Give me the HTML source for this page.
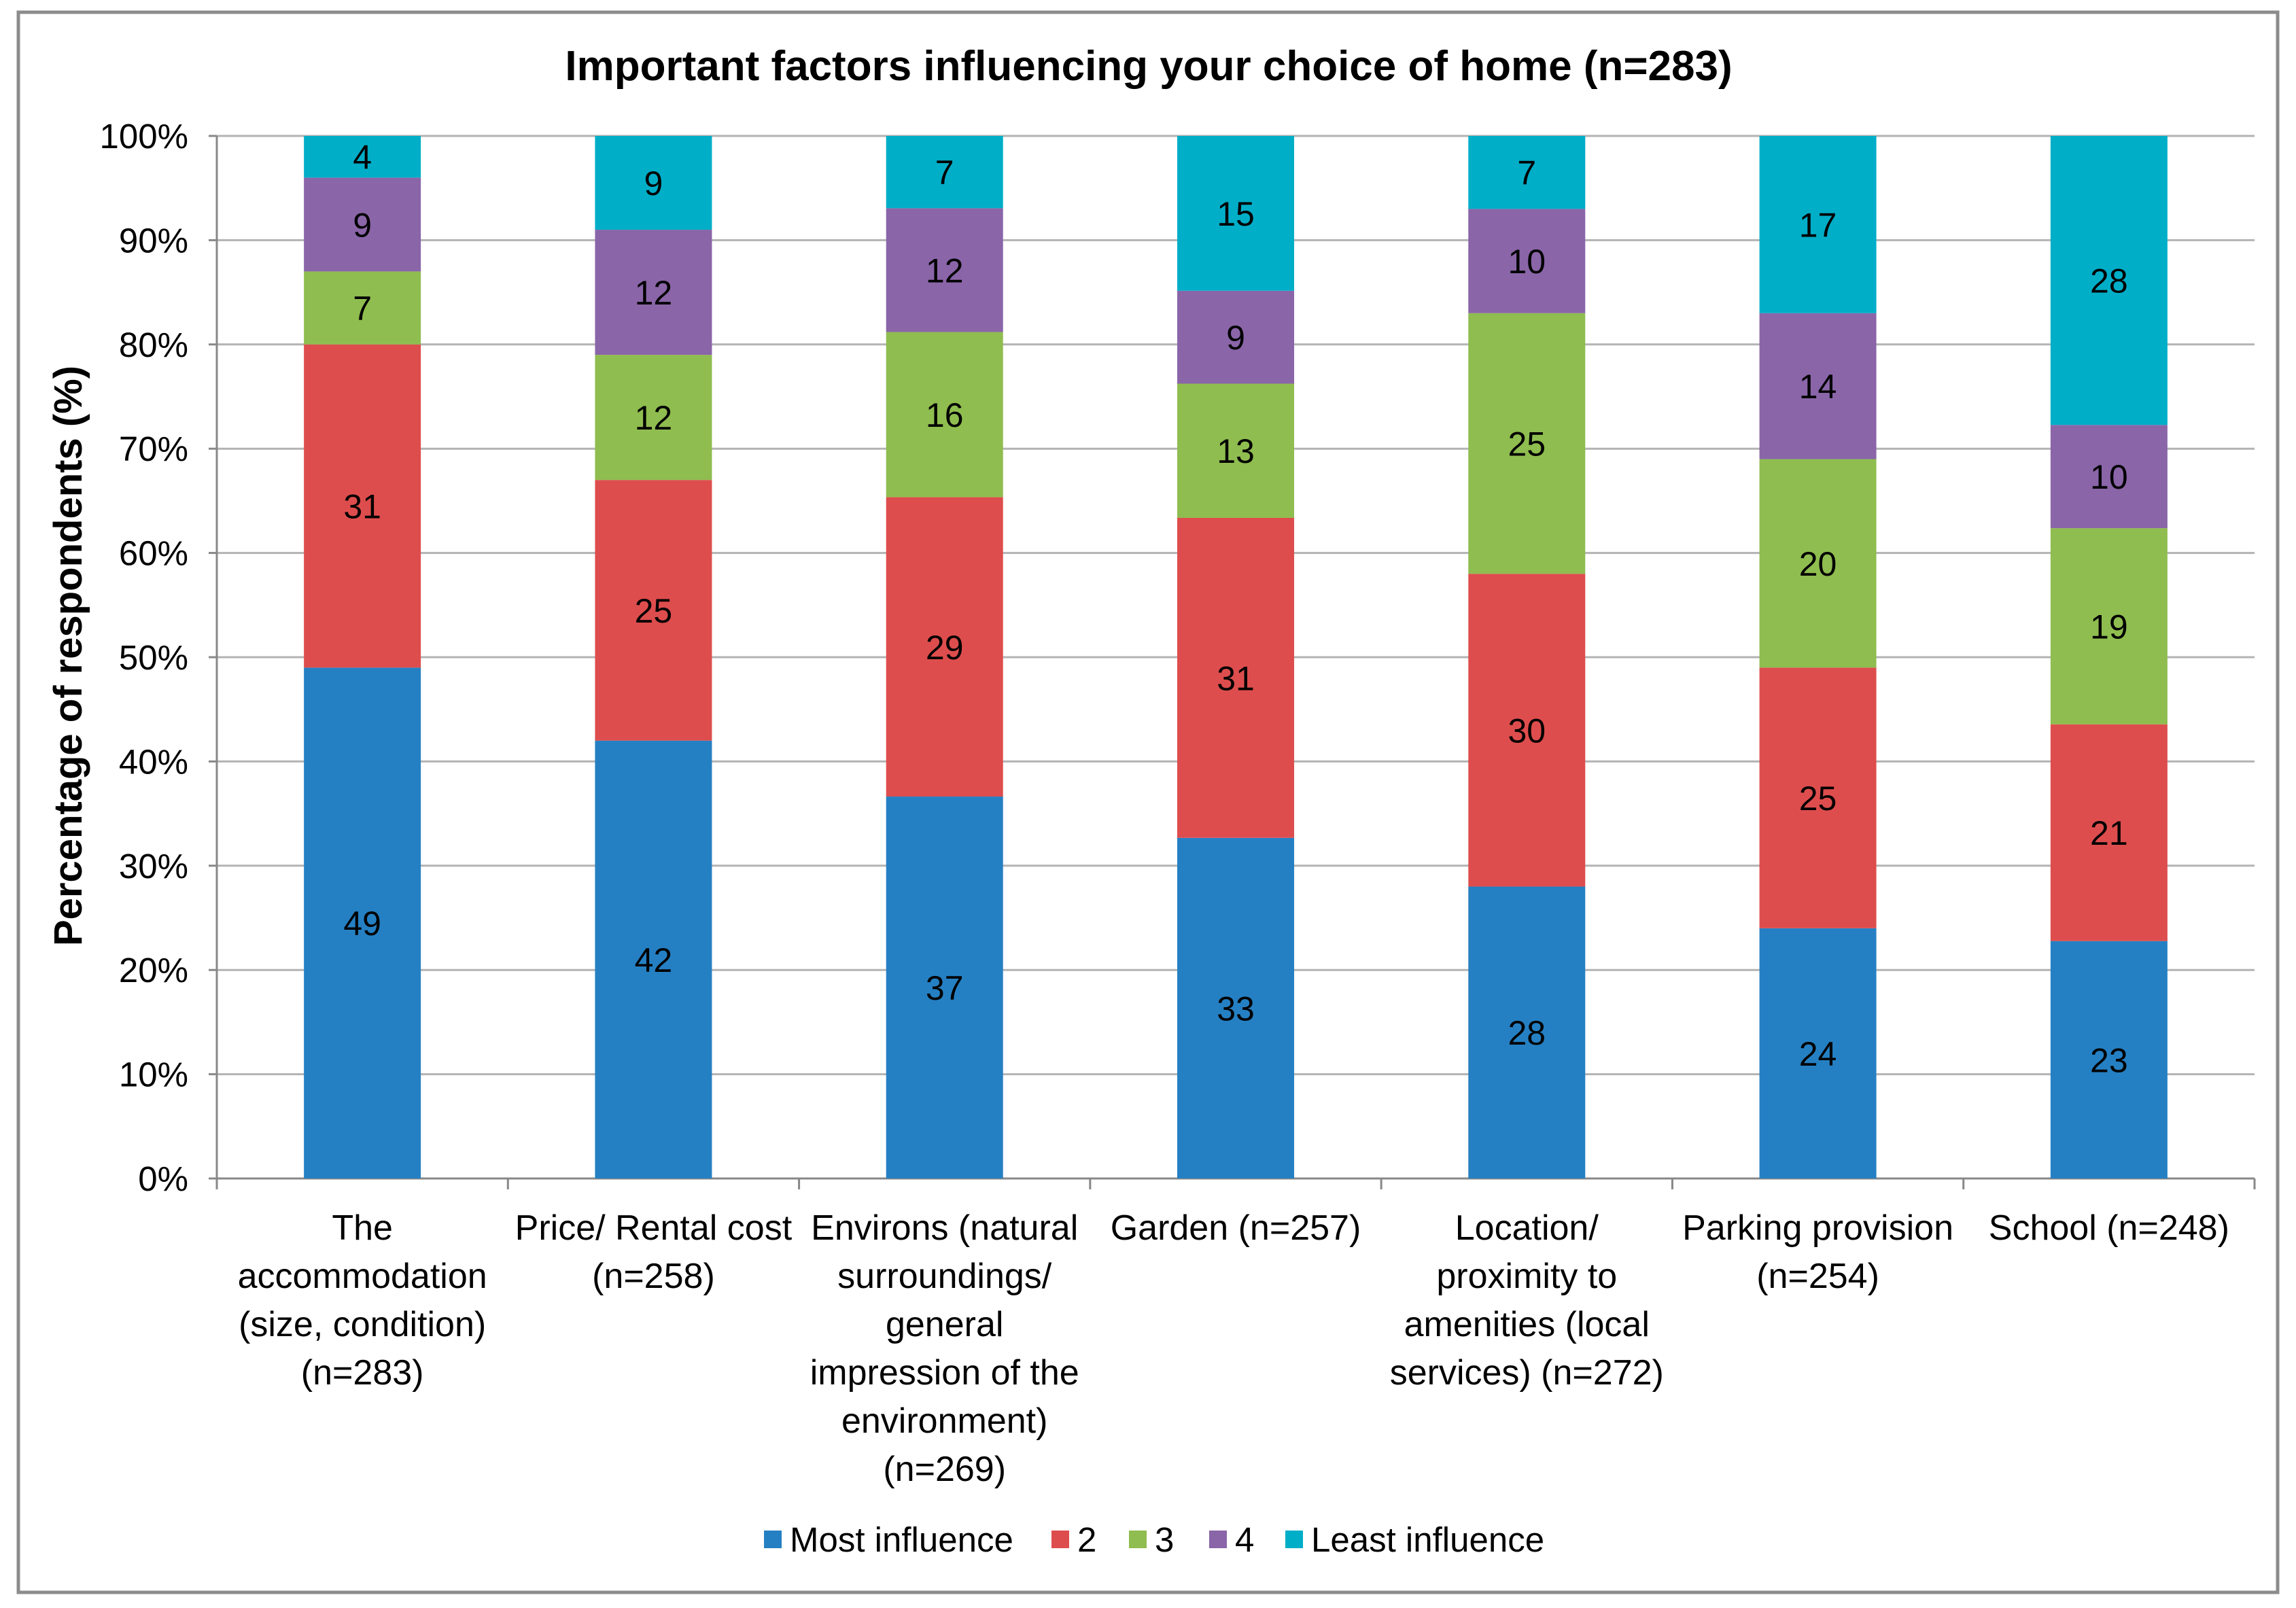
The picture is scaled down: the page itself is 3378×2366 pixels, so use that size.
<!DOCTYPE html>
<html><head><meta charset="utf-8"><style>
html,body{margin:0;padding:0;background:#fff;}
svg{display:block;font-family:"Liberation Sans",Arial,sans-serif;}
</style></head><body>
<svg id="chart" width="3378" height="2366" viewBox="0 0 3378 2366" xmlns="http://www.w3.org/2000/svg">
<rect x="27" y="18" width="3324" height="2325" fill="#fff" stroke="#8c8c8c" stroke-width="5"/>
<text x="1690" y="118" text-anchor="middle" font-size="62" font-weight="bold" fill="#000">Important factors influencing your choice of home (n=283)</text>
<text transform="translate(120,965) rotate(-90)" text-anchor="middle" font-size="58" font-weight="bold" fill="#000">Percentage of respondents (%)</text>
<g id="grid"></g><g id="bars"></g><g id="labels"></g><g id="legend"></g>
</svg>
<script>
const categories = [
 ["The","accommodation","(size, condition)","(n=283)"],
 ["Price/ Rental cost","(n=258)"],
 ["Environs (natural","surroundings/","general","impression of the","environment)","(n=269)"],
 ["Garden (n=257)"],
 ["Location/","proximity to","amenities (local","services) (n=272)"],
 ["Parking provision","(n=254)"],
 ["School (n=248)"]
];
const seriesNames = ["Most influence","2","3","4","Least influence"];
const mostInfluence = [49,42,37,33,28,24,23];
const rank2 = [31,25,29,31,30,25,21];
const rank3 = [7,12,16,13,25,20,19];
const rank4 = [9,12,12,9,10,14,10];
const leastInfluence = [4,9,7,15,7,17,28];
const yTicks = [0,10,20,30,40,50,60,70,80,90,100];

const series = [mostInfluence,rank2,rank3,rank4,leastInfluence];
const colors = ["#2580C3","#DE4D4D","#8FBD4F","#8A65A8","#00AEC8"];
const NS="http://www.w3.org/2000/svg";
const L=319,R=3317,T=200,B=1734;
const n=categories.length, step=(R-L)/n, bw=172;
const y=v=>B-(B-T)*v/100;
const xc=i=>L+step*(i+0.5);
function mk(tag,attrs,parent,txt){const e=document.createElementNS(NS,tag);for(const k in attrs)e.setAttribute(k,attrs[k]);if(txt!==undefined)e.textContent=txt;parent.appendChild(e);return e;}
const grid=document.getElementById('grid'),bars=document.getElementById('bars'),labels=document.getElementById('labels'),legend=document.getElementById('legend');
yTicks.forEach(t=>{
 const g=mk('line',{x1:L,x2:R,y1:y(t),y2:y(t),stroke:t===0?'#888':'#b3b3b3','stroke-width':3},grid);
 
 
 const tl=mk('text',{x:L-42,y:y(t)+18,'text-anchor':'end','font-size':51,fill:'#000'},grid,t+'%');
 
 
 const tk=mk('line',{x1:L-12,x2:L,y1:y(t),y2:y(t),stroke:'#888','stroke-width':3},grid);
 
 
});
const ax=mk('line',{x1:L,x2:L,y1:T,y2:B,stroke:'#888','stroke-width':3},grid);


for(let i=0;i<=n;i++){
 const tk=mk('line',{x1:L+step*i,x2:L+step*i,y1:B,y2:B+16,stroke:'#888','stroke-width':3},grid);
 
 
}
categories.forEach((c,i)=>{
 const tot=series.reduce((s,a)=>s+a[i],0);
 let acc=0;
 series.forEach((a,k)=>{
  const v=a[i]/tot*100;
  const r=mk('rect',{x:xc(i)-bw/2,y:y(acc+v),width:bw,height:y(acc)-y(acc+v),fill:colors[k]},bars);
  
  
  const t=mk('text',{x:xc(i),y:(y(acc)+y(acc+v))/2+18,'text-anchor':'middle','font-size':50,fill:'#000'},labels,a[i]);
  
  
  acc+=v;
 });
 c.forEach((line,j)=>{
  const t=mk('text',{x:xc(i),y:1824+j*71,'text-anchor':'middle','font-size':52,fill:'#000'},labels,line);
  
  
 });
});
const legX=[1124,1547,1661,1779,1891];
seriesNames.forEach((s,k)=>{
 const sw=mk('rect',{x:legX[k],y:2252,width:26,height:26,fill:colors[k]},legend);
 
 
 const t=mk('text',{x:legX[k]+38,y:2283,'font-size':51,fill:'#000'},legend,s);
 
 
});
</script>
</body></html>
